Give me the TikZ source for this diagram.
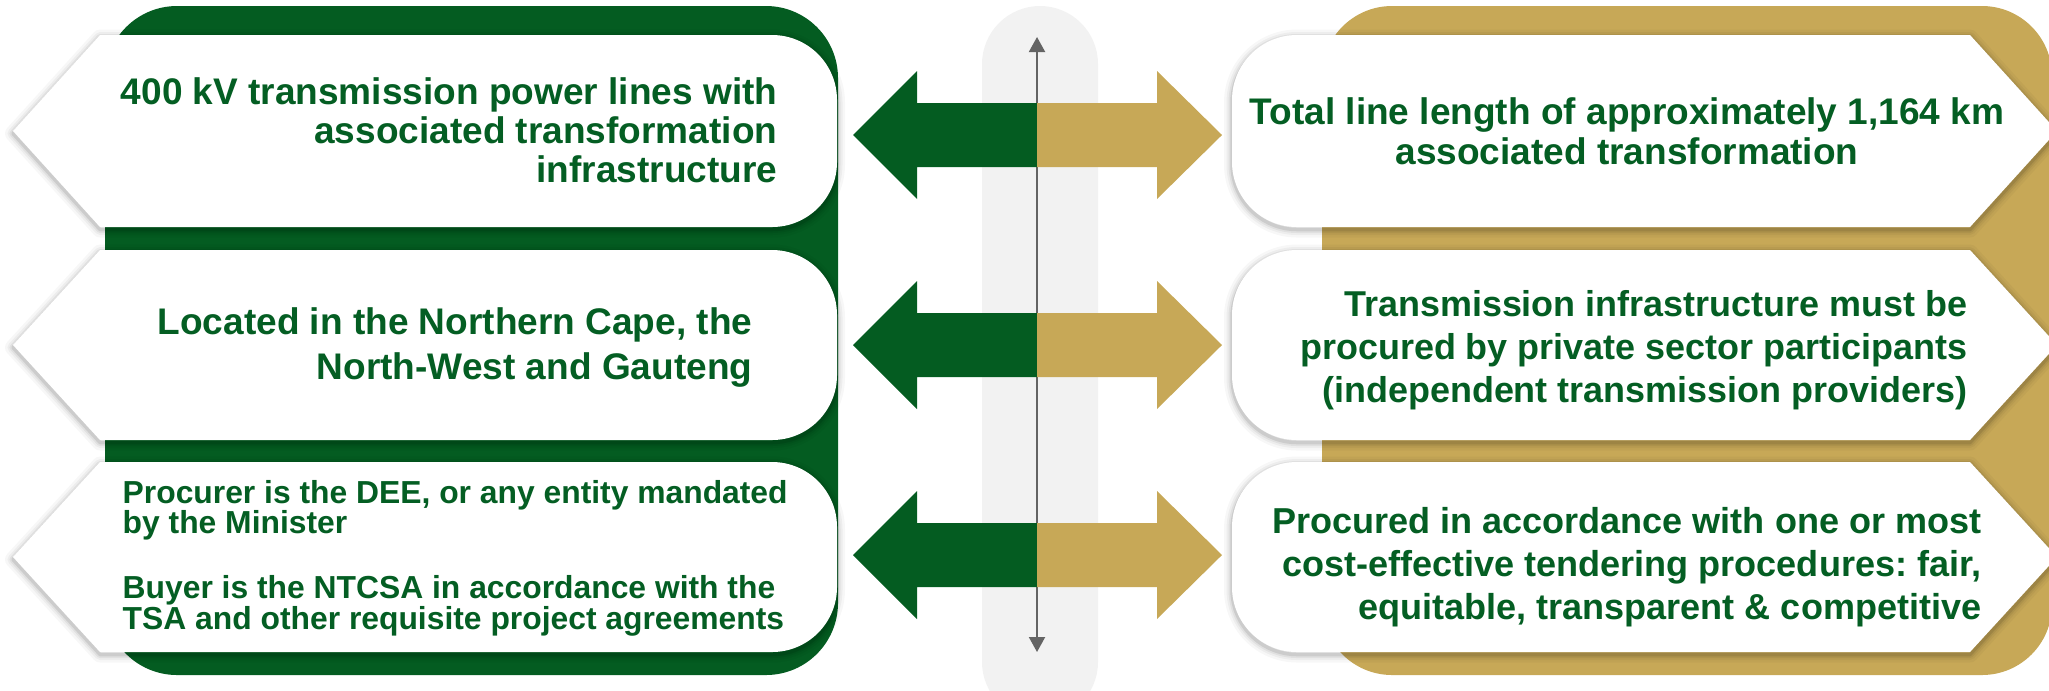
\documentclass[tikz,border=0pt]{standalone}
\usepackage{fontspec}
\setmainfont{Liberation Sans}
\usetikzlibrary{arrows.meta}

\definecolor{panelgreen}{RGB}{4,92,33}
\definecolor{panelgold}{RGB}{199,168,87}
\definecolor{textgreen}{RGB}{4,94,35}
\definecolor{barfill}{RGB}{242,242,242}
\definecolor{axisgray}{RGB}{100,100,100}

\tikzset{
  % white label plates: arrow point on the outer side, rounded on the inner side
  leftbox/.style 2 args={insert path={(13,{(#1+#2)/2}) -- (100,#1) -- (772,#1)
      arc[start angle=-90,end angle=0,radius=65] -- (837,{#2-65})
      arc[start angle=0,end angle=90,radius=65] -- (100,#2) -- cycle}},
  rightbox/.style 2 args={insert path={(2057,{(#1+#2)/2}) -- (1970,#1) -- (1297,#1)
      arc[start angle=-90,end angle=-180,radius=65] -- (1232,{#2-65})
      arc[start angle=180,end angle=90,radius=65] -- (1970,#2) -- cycle}},
  softshadow/.style={draw=black, line join=round, yshift=-0.025cm},
  boxtext/.style={inner sep=0pt, text=textgreen},
  txtsize/.style 2 args={font={\fontsize{#1}{#2}\selectfont\bfseries}},
}

\begin{document}
\frenchspacing
\setlength{\lineskiplimit}{-20pt}
\begin{tikzpicture}[x=0.01cm,y=-0.01cm]
\useasboundingbox (0,0) rectangle (2049,690);
\clip (0,0) rectangle (2049,690);

% background panels
\fill[panelgreen, rounded corners=0.72cm] (105,6) rectangle (838,675);
\fill[panelgold, rounded corners=0.7cm] (1322,6) rectangle (2052,675);

% central rail with its double-headed axis
\fill[barfill, rounded corners=0.58cm] (982,6) rectangle (1098,720);
\coordinate (axtop) at (1037,37);
\coordinate (axbot) at (1037,652);
\draw[axisgray, line width=0.02cm,
  {Triangle[width=0.16cm,length=0.15cm]}-{Triangle[width=0.16cm,length=0.15cm]}]
  (axtop) -- (axbot);

% two-coloured double arrows, one per row
\foreach \c in {135,345,555} {
  \fill[panelgreen] (1037,\c-32) -- (917,\c-32) -- (917,\c-64) -- (853,\c)
    -- (917,\c+64) -- (917,\c+32) -- (1037,\c+32) -- cycle;
  \fill[panelgold] (1037,\c-32) -- (1157,\c-32) -- (1157,\c-64) -- (1222,\c)
    -- (1157,\c+64) -- (1157,\c+32) -- (1037,\c+32) -- cycle;
}

% label plates with a soft shadow
\foreach \t/\b in {35/227, 250/440, 462/652} {
  \foreach \w/\o in {0.16cm/0.03, 0.11cm/0.04, 0.07cm/0.055, 0.035cm/0.09} {
    \draw[softshadow, line width=\w, draw opacity=\o, leftbox={\t}{\b}];
    \draw[softshadow, line width=\w, draw opacity=\o, rightbox={\t}{\b}];
  }
  \fill[white, leftbox={\t}{\b}];
  \fill[white, rightbox={\t}{\b}];
}

% texts, left column
\node[boxtext, txtsize={10.53pt}{11.1pt}, align=right, anchor=north east] (lone) at (778,76.5)
  {400 kV transmission power lines with\\associated transformation\\infrastructure};
\node[boxtext, txtsize={10.53pt}{12.8pt}, align=right, anchor=north east] (ltwo) at (753,307)
  {Located in the Northern Cape, the\\North-West and Gauteng};
\node[boxtext, txtsize={9.05pt}{8.68pt}, align=left, anchor=north west] (lthree) at (122,479.5)
  {Procurer is the DEE, or any entity mandated\\by the Minister\\[9.8pt]Buyer is the NTCSA in accordance with the\\TSA and other requisite project agreements};

% texts, right column
\node[boxtext, txtsize={10.53pt}{11.38pt}, align=center, anchor=north] (rone) at (1627,96.5)
  {Total line length of approximately 1,164 km\\associated transformation};
\node[boxtext, txtsize={10.22pt}{12.23pt}, align=right, anchor=north east] (rtwo) at (1968,290)
  {Transmission infrastructure must be\\procured by private sector participants\\(independent transmission providers)};
\node[boxtext, txtsize={10.25pt}{12.23pt}, align=right, anchor=north east] (rthree) at (1982,507)
  {Procured in accordance with one or most\\cost-effective tendering procedures: fair,\\equitable, transparent \& competitive};
\end{tikzpicture}
\end{document}
